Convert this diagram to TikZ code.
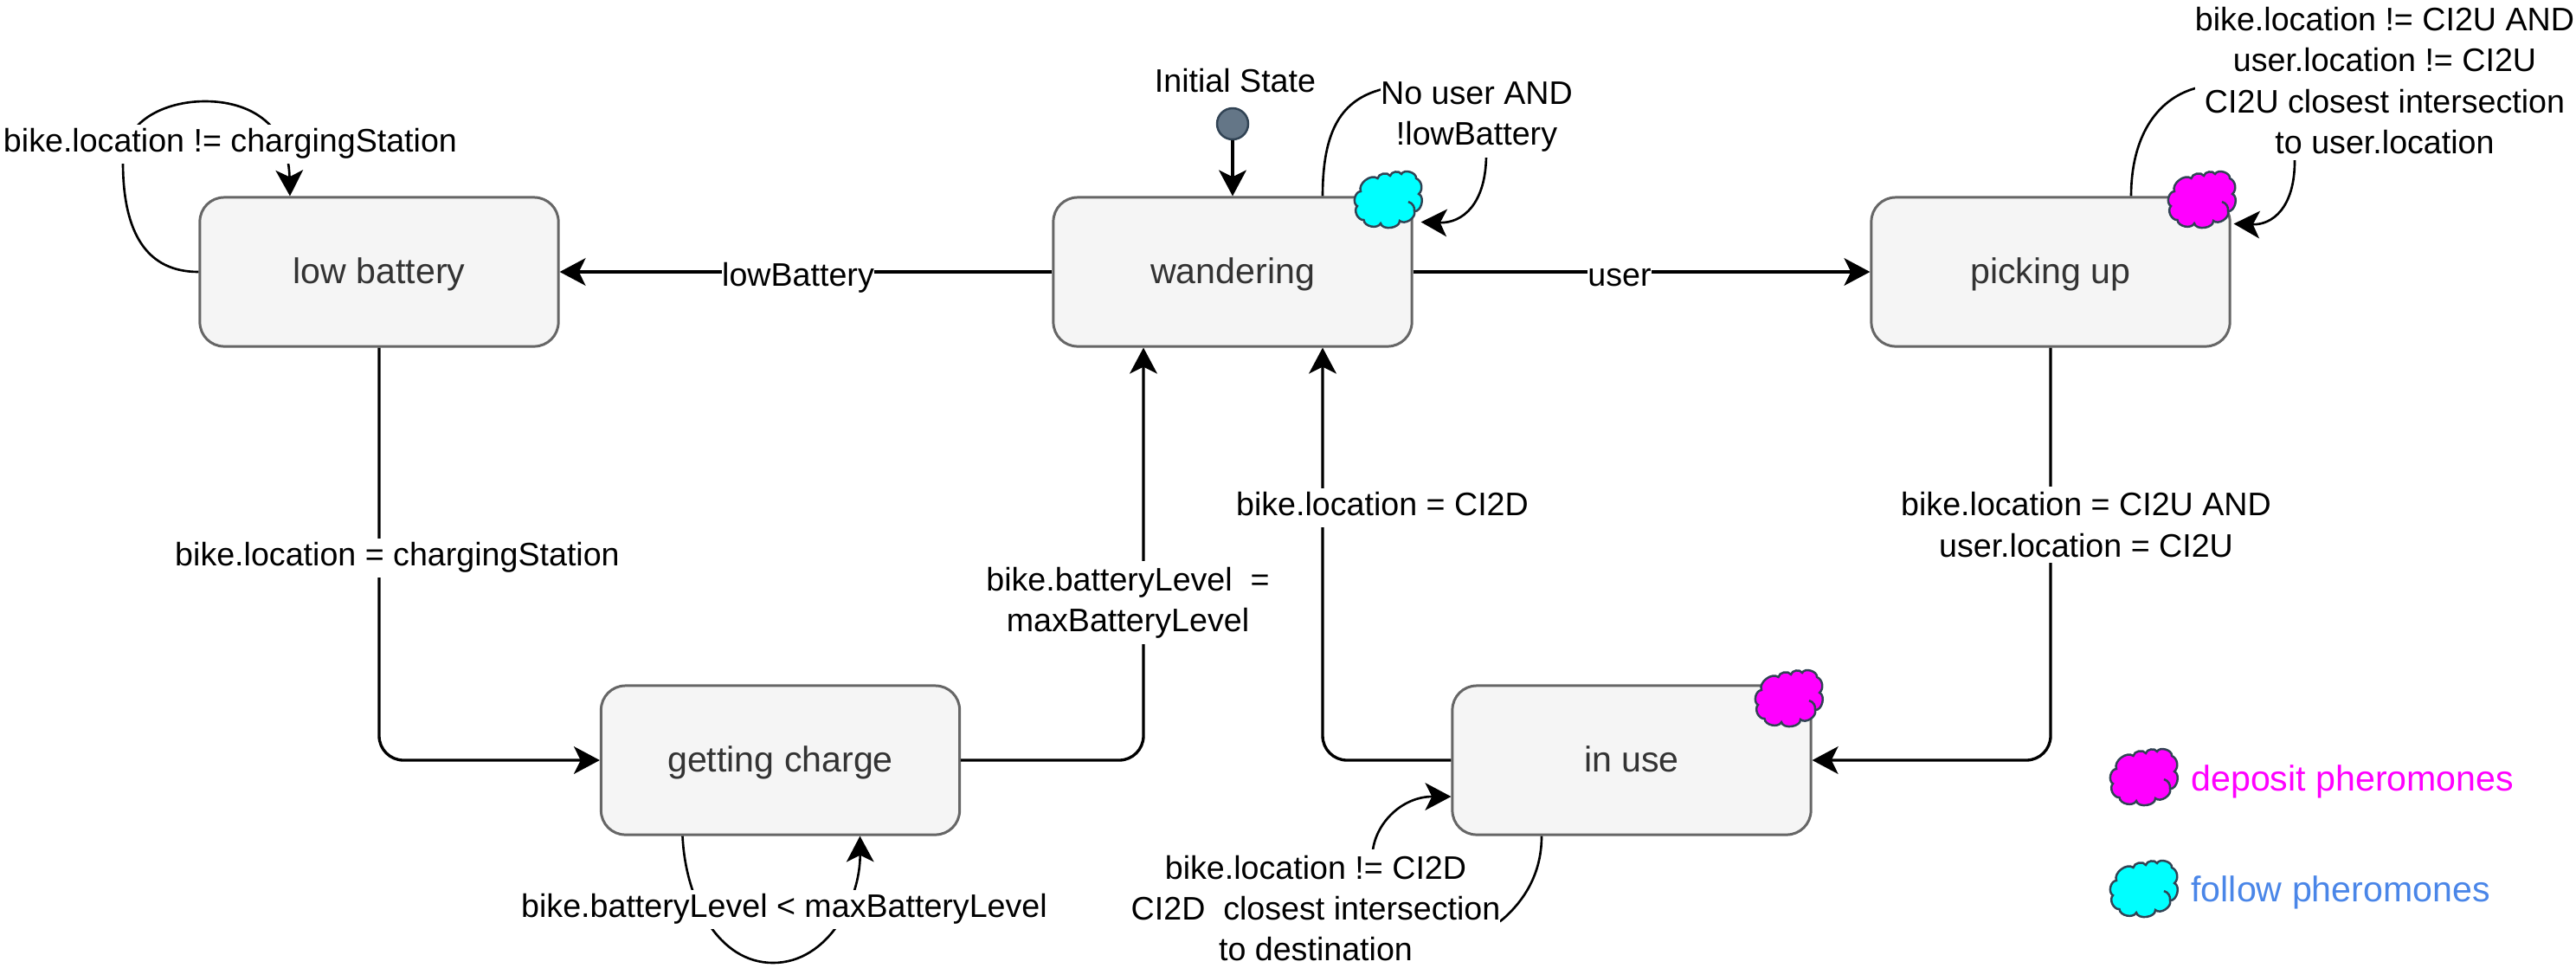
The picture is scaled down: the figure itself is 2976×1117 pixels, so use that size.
\documentclass[tikz,border=0pt]{standalone}
\usepackage{fontspec}
\setmainfont{Liberation Sans}
\usetikzlibrary{arrows.meta,calc}
\definecolor{boxline}{HTML}{666666}
\definecolor{boxfill}{HTML}{F5F5F5}
\definecolor{boxtext}{HTML}{333333}
\definecolor{slateline}{HTML}{314354}
\definecolor{slatefill}{HTML}{647687}
\definecolor{followblue}{HTML}{4A86E8}
\definecolor{depositpink}{HTML}{FF00FF}
\definecolor{followcyan}{HTML}{00FFFF}
\tikzset{
    state/.style={draw=boxline,fill=boxfill,text=boxtext,line width=.85pt,rounded corners=.28cm,
        minimum width=4.14cm,minimum height=1.72cm,inner sep=0pt,text height=10.3pt,text depth=2.6pt,
        font=\fontsize{11.7}{14}\selectfont},
    link/.style={line width=.95pt,rounded corners=8pt},
    selfloop/.style={line width=.75pt},
    guard/.style={fill=white,inner sep=0pt,text height=9.2pt,text depth=3.6pt},
    guardblock/.style={fill=white,inner xsep=0pt,inner ysep=2pt,align=center},
    legend/.style={inner sep=0pt,anchor=west,font=\fontsize{11.7}{13}\selectfont},
    pics/phero/.style={code={
        \draw[slateline,line width=.7pt,-,fill=#1] (-32,-10) to[bend left=75] (-12.5,-25) to[bend left=70] (2,-28)
            to[bend left=70] (15,-30) to[bend left=80] (32,-25) to[bend left=60] (35,-7) to[bend left=80] (30,13)
            to[bend left=75] (13,24) to[bend left=85] (-9,27) to[bend left=75] (-28.5,23) to[bend left=70] (-36,7)
            to[bend left=75] cycle;
        \draw[slateline,line width=.7pt,-] (23,2) to[bend left=40] (30,13);
    }}
}
\begin{document}
\begin{tikzpicture}[->,>={Stealth[length=8.5pt,width=9pt,inset=2.2pt]},line width=.8pt,x=.01cm,y=-.01cm,
        font=\fontsize{10.7}{13.4}\selectfont]
    \useasboundingbox (0,0) rectangle (2976,1117);

    \node[state] (low) at (438,314) {low battery};
    \node[state] (wander) at (1424,314) {wandering};
    \node[state] (pick) at (2369,314) {picking up};
    \node[state] (charge) at (901.5,878) {getting charge};
    \node[state] (inuse) at (1885,878) {in use};
    \node[circle,draw=slateline,fill=slatefill,line width=.7pt,minimum size=.36cm,inner sep=0pt] (start) at (1424,143) {};

    \draw[link] (start) -- (wander);
    \draw[link] (wander) -- (low);
    \draw[link] (wander) -- (pick);
    \draw[link] (low.south) |- (charge.west);
    \draw[link] (charge.east) -| ($(wander.south)+(-103,0)$);
    \draw[link] (inuse.west) -| ($(wander.south)+(104,0)$);
    \draw[link] (pick.south) |- (inuse.east);

    % self loops, the guards sit on top of them
    \draw[selfloop] (low.west) .. controls (170,314) and (142,270) .. (142,187)
        .. controls (142,140) and (190,117) .. (237,117)
        .. controls (285,117) and (333,140) .. ($(low.north)+(-103,0)$);
    \draw[selfloop] ($(wander.north)+(104,0)$) .. controls (1528,150) and (1550,115) .. (1597,103)
        .. controls (1680,85) and (1717,130) .. (1717,178)
        .. controls (1717,235) and (1690,258) .. ($(wander.north east)+(9,30)$);
    \draw[selfloop] ($(pick.north)+(93,0)$) .. controls (2462,160) and (2490,115) .. (2536,102)
        .. controls (2620,78) and (2651,130) .. (2651,186)
        .. controls (2651,240) and (2625,260) .. ($(pick.north east)+(3,32)$);
    \draw[selfloop] ($(charge.south)+(-113,0)$) .. controls (792,1040) and (830,1112) .. (893,1112)
        .. controls (956,1112) and (994,1040) .. ($(charge.south)+(92,0)$);
    \draw[selfloop] ($(inuse.south)+(-104,0)$) .. controls (1781,1010) and (1760,1040) .. (1738,1060)
        .. controls (1700,1095) and (1586,1060) .. (1586,982)
        .. controls (1590,950) and (1620,920) .. ($(inuse.west)+(0,42)$);

    \pic (wanderCloud) at (1604,231) {phero=followcyan};
    \pic (pickCloud) at (2544,231) {phero=depositpink};
    \pic (inuseCloud) at (2067,807) {phero=depositpink};
    \pic (depositCloud) at (2477,898) {phero=depositpink};
    \pic (followCloud) at (2477,1027) {phero=followcyan};

    \node[legend,text=depositpink] (deposit) at (2530,903) {deposit pheromones};
    \node[legend,text=followblue] (follow) at (2530,1031) {follow pheromones};

    \node[inner sep=0pt] (startLabel) at (1427,93) {Initial State};
    \node[guard] (lowLabel) at (266,166) {bike.location != chargingStation};
    \node[guardblock] (wanderLabel) at (1706,135) {No user AND\\!lowBattery};
    \node[guardblock] (pickLabel) at (2755,93) {bike.location != CI2U AND\\user.location != CI2U\\CI2U closest intersection\\to user.location};
    \node[guard] (lowEdge) at (922,321) {lowBattery};
    \node[guard] (userEdge) at (1871,321) {user};
    \node[guard] (chargeLabel) at (459,644) {bike.location = chargingStation};
    \node[guardblock] (fullLabel) at (1303,696) {bike.batteryLevel\ \ =\\maxBatteryLevel};
    \node[guard] (doneLabel) at (1597,586) {bike.location = CI2D};
    \node[guardblock] (arriveLabel) at (2410,606) {bike.location = CI2U AND\\user.location = CI2U};
    \node[guard] (batteryLabel) at (906,1050) {bike.batteryLevel < maxBatteryLevel};
    \node[guardblock] (useLabel) at (1520,1049) {bike.location != CI2D\\CI2D\ \ closest intersection\\to destination};
\end{tikzpicture}
\end{document}
